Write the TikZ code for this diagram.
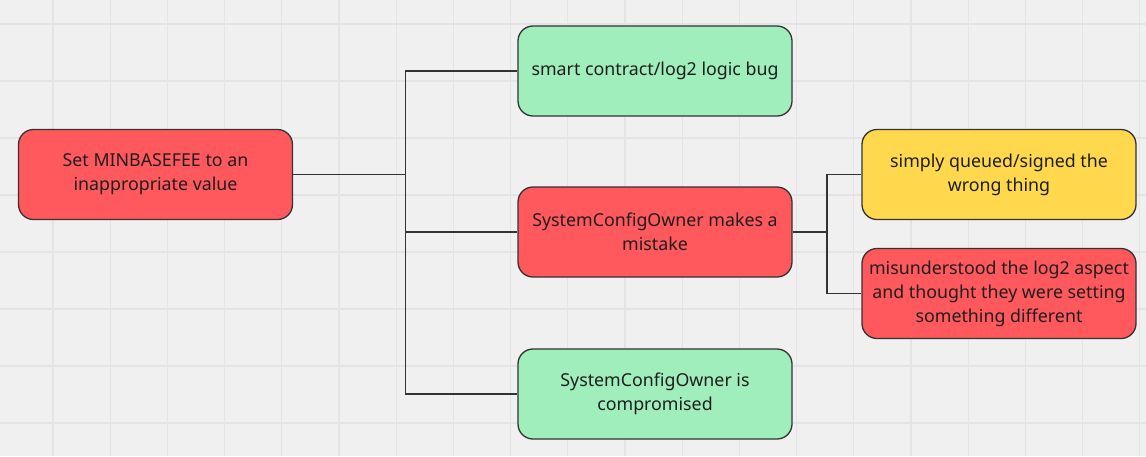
\documentclass[tikz,border=0pt]{standalone}
\usepackage{fontspec}
\setmainfont{Noto Sans}
\definecolor{bg}{HTML}{F0F0F0}
\definecolor{gridc}{HTML}{E4E4E4}
\definecolor{redf}{HTML}{FF585D}
\definecolor{greenf}{HTML}{A1EEBD}
\definecolor{yellowf}{HTML}{FFD84D}
\definecolor{linec}{HTML}{333333}
\definecolor{textc}{HTML}{1E1E1E}
\tikzset{
  card/.style={draw=linec, line width=1.3pt, rounded corners=15pt, minimum width=274pt, minimum height=90pt, align=center, text=textc, font=\fontsize{17.8pt}{24pt}\selectfont, inner sep=0pt, execute at begin node={\vspace*{4pt}}},
  conn/.style={draw=linec, line width=1.3pt}
}
\begin{document}
\begin{tikzpicture}[x=1pt,y=1pt]
\fill[bg] (0,0) rectangle (1146,-456);
\useasboundingbox (0,0) rectangle (1146,-456);
\foreach \i in {0,...,19} {\draw[gridc, line width=1.2pt] ({53+57.2*\i},0) -- ({53+57.2*\i},-456);}
\foreach \j in {0,...,7} {\draw[gridc, line width=1.2pt] (0,{-24-57*\j}) -- (1146,{-24-57*\j});}
\node[card, fill=redf] (root) at (155.5,-174.5) {Set MINBASEFEE to an\\inappropriate value};
\node[card, fill=greenf] (top) at (655,-71) {smart contract/log2 logic bug};
\node[card, fill=redf] (mid) at (655,-232) {SystemConfigOwner makes a\\mistake};
\node[card, fill=greenf] (bot) at (655,-394) {SystemConfigOwner is\\compromised};
\node[card, fill=yellowf] (yel) at (999,-174.5) {simply queued/signed the\\wrong thing};
\node[card, fill=redf] (mis) at (999,-293.5) {misunderstood the log2 aspect\\and thought they were setting\\something different};
\coordinate (t1) at (405.5,-174.5);
\coordinate (t2) at (827,-232);
\draw[conn] (root.east) -- (t1);
\draw[conn] (t1) |- (top.west);
\draw[conn] (t1) |- (mid.west);
\draw[conn] (t1) |- (bot.west);
\draw[conn] (mid.east) -- (t2);
\draw[conn] (t2) |- (yel.west);
\draw[conn] (t2) |- (mis.west);
\end{tikzpicture}
\end{document}
